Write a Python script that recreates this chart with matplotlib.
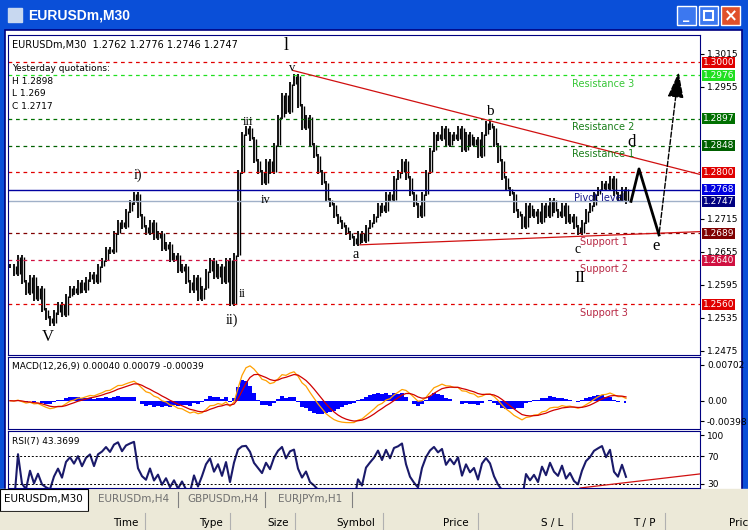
import numpy as np, pandas as pd
import matplotlib
matplotlib.use("Agg")
import matplotlib.pyplot as plt
from matplotlib.patches import Rectangle

closes = [1.2630,1.2615,1.2645,1.2600,1.2580,1.2610,1.2570,1.2590,1.2550,1.2535,
1.2525,1.2545,1.2560,1.2540,1.2575,1.2590,1.2580,1.2600,1.2585,1.2605,
1.2615,1.2600,1.2630,1.2640,1.2660,1.2655,1.2690,1.2710,1.2700,1.2730,
1.2745,1.2760,1.2720,1.2700,1.2690,1.2710,1.2680,1.2690,1.2660,1.2670,
1.2640,1.2650,1.2620,1.2630,1.2600,1.2585,1.2610,1.2570,1.2590,1.2620,
1.2640,1.2610,1.2630,1.2600,1.2640,1.2560,1.2650,1.2800,1.2870,1.2880,
1.2860,1.2820,1.2800,1.2780,1.2820,1.2800,1.2850,1.2900,1.2940,1.2910,
1.2960,1.2975,1.2920,1.2880,1.2900,1.2850,1.2830,1.2800,1.2780,1.2750,
1.2740,1.2720,1.2710,1.2700,1.2690,1.2680,1.2670,1.2690,1.2675,1.2700,
1.2710,1.2720,1.2740,1.2730,1.2760,1.2750,1.2790,1.2800,1.2820,1.2790,
1.2760,1.2740,1.2720,1.2760,1.2800,1.2840,1.2870,1.2860,1.2880,1.2850,
1.2870,1.2860,1.2880,1.2840,1.2870,1.2850,1.2860,1.2830,1.2870,1.2890,
1.2880,1.2850,1.2820,1.2790,1.2770,1.2760,1.2730,1.2720,1.2700,1.2740,
1.2720,1.2730,1.2710,1.2740,1.2720,1.2750,1.2730,1.2720,1.2740,1.2710,
1.2720,1.2700,1.2690,1.2710,1.2730,1.2740,1.2760,1.2770,1.2780,1.2770,
1.2790,1.2760,1.2750,1.2770,1.2747]

level_prices = [1.3000, 1.2976, 1.2897, 1.2848, 1.2800, 1.2768, 1.2747, 1.2689, 1.2640, 1.2560]
level_colors = ['#e00000', '#20e020', '#007000', '#006000', '#e00000', '#0000e0', '#000080', '#800000', '#d01040', '#e00000']
level_names = ["Resistance 3", "Resistance 2", "Resistance 1", "Pivot level", "Support 1", "Support 2", "Support 3"]
level_name_prices = [1.2976, 1.2897, 1.2848, 1.2768, 1.2689, 1.2640, 1.2560]
axis_ticks = [1.3015, 1.2955, 1.2715, 1.2655, 1.2595, 1.2535, 1.2475]
trend_upper = ([70.75, 172.5], [1.2985, 1.2796])
trend_lower = ([87.5, 172.5], [1.2668, 1.2692])
zig_x = [155.25, 157.25, 162.25]
zig_y = [1.2747, 1.2806, 1.2686]
arrow_end = (167.25, 1.2987)
waves = [("l", 69, 1.3030, 13), ("v", 70.5, 1.2990, 9), ("iii", 59.5, 1.2892, 9), ("iv", 64, 1.2750, 9),
         ("i)", 32, 1.2795, 10), ("ii", 58, 1.2578, 9), ("ii)", 55.5, 1.2530, 10), ("V", 9.5, 1.2500, 12),
         ("a", 86.5, 1.2650, 10), ("b", 120, 1.2910, 11), ("c", 142, 1.2660, 10), ("d", 155.5, 1.2855, 12),
         ("e", 161.5, 1.2665, 12), ("II", 142.5, 1.2608, 12)]

W, H = 748, 530
fig = plt.figure(figsize=(W/100, H/100), dpi=100)
fig.patch.set_facecolor('white')
def R(x0, y0, x1, y1):
    return [x0/W, 1-y1/H, (x1-x0)/W, (y1-y0)/H]

bg = fig.add_axes([0, 0, 1, 1]); bg.set_xlim(0, W); bg.set_ylim(H, 0); bg.axis('off')
bg.add_patch(Rectangle((0, 0), W, 30, color='#0a4fd8'))
bg.add_patch(Rectangle((0, 0), 5, 490, color='#0a4fd8'))
bg.add_patch(Rectangle((742, 0), 6, 490, color='#0a4fd8'))
for bx, c in [(677, '#3c78f0'), (699, '#3c78f0'), (721, '#e0502a')]:
    bg.add_patch(Rectangle((bx, 6), 19, 19, facecolor=c, edgecolor='white', lw=1))
bg.text(686, 16, "_", color='white', ha='center', va='center', fontsize=9, weight='bold')
bg.add_patch(Rectangle((704, 11), 9, 9, fill=False, edgecolor='white', lw=1.5))
bg.text(730.5, 16, "×", color='white', ha='center', va='center', fontsize=12, weight='bold')
bg.add_patch(Rectangle((8, 8), 14, 14, color='#c8d8f0'))
bg.text(28, 16, "EURUSDm,M30", color='white', fontsize=10, weight='bold', va='center', family='Liberation Sans')
bg.add_patch(Rectangle((5, 30), 737, 460, facecolor='white', edgecolor='#000080', lw=1.2))
bg.add_patch(Rectangle((0, 489), W, 22, color='#ece9d8'))
bg.add_patch(Rectangle((0, 489), 88, 22, facecolor='white', edgecolor='black', lw=0.8))
bg.text(4, 499, "EURUSDm,M30", fontsize=7.5, va='center')
for tx, s in [(98, "EURUSDm,H4"), (187, "GBPUSDm,H4"), (278, "EURJPYm,H1")]:
    bg.text(tx, 499, s, fontsize=7.5, va='center', color='#707070')
for lx in [178, 265, 352]:
    bg.plot([lx, lx], [492, 507], color='#808080', lw=0.8)
bg.add_patch(Rectangle((0, 512), W, 18, color='#ece9d8'))
for tx, s in [(138, "Time"), (223, "Type"), (289, "Size"), (375, "Symbol"), (469, "Price"), (563, "S / L"), (656, "T / P"), (748, "Pric")]:
    bg.text(tx, 523, s, fontsize=7.5, ha='right', va='center')
for lx in [145, 230, 295, 383, 478, 572, 665]:
    bg.plot([lx, lx], [513, 530], color='#b0b0b0', lw=0.8)

n = len(closes)
idx = np.arange(n)
opens = [closes[0]] + closes[:-1]
ax = fig.add_axes(R(8, 35, 700, 355))
ax.set_xlim(-0.5, 172.5); ax.set_ylim(1.24677, 1.30495)
lo = np.minimum(opens, closes) - 0.0004; hi = np.maximum(opens, closes) + 0.0004
ax.vlines(idx, lo, hi, color='black', lw=1.3)
ax.vlines(idx + 0.5, np.minimum(opens, closes), np.maximum(opens, closes), color='black', lw=1.0)
for p, c in zip(level_prices, level_colors):
    if p in (1.2768, 1.2747):
        ax.axhline(p, color='#0000a0' if p == 1.2768 else '#a0b0c8', lw=1.0)
    else:
        ax.axhline(p, color=c, lw=0.9, ls=(0, (3, 3)))
name_colors = ['#20c020', '#007000', '#007000', '#000080', '#b01030', '#b01030', '#b01030']
for nm, p, c in zip(level_names, level_name_prices, name_colors):
    xx = 142.5 if 'Support' in nm else 140.5 if 'Pivot' not in nm else 141
    ax.text(xx, p - 0.0006, nm, color=c, fontsize=7, va='top', alpha=0.9)
ax.plot(*trend_upper, color='#d01010', lw=0.9)
ax.plot(*trend_lower, color='#d01010', lw=0.9)
ax.plot(zig_x, zig_y, color='black', lw=2)
ax.annotate("", xy=arrow_end, xytext=(zig_x[-1], zig_y[-1]),
            arrowprops=dict(arrowstyle='-|>,head_length=1.6,head_width=0.5', color='black', lw=1.0, ls='--'))
for s, x, y, fs in waves:
    ax.text(x, y, s, fontsize=fs, family='Liberation Serif', ha='center', va='center')
ax.yaxis.tick_right()
ax.set_yticks(axis_ticks)
ax.set_yticklabels([f"{v:.4f}" for v in axis_ticks], fontsize=6.5)
ax.tick_params(axis='y', length=3, pad=2)
ax.set_xticks([])
for sp in ax.spines.values(): sp.set_color('#000080')
for p, c in zip(level_prices, level_colors):
    ax.text(1.004, p, f"{p:.4f}", transform=ax.get_yaxis_transform(), color='white', fontsize=6.5, va='center',
            bbox=dict(boxstyle='square,pad=0.12', fc=c, ec='none'), zorder=5)
ax.text(0.006, 0.985, "EURUSDm,M30  1.2762 1.2776 1.2746 1.2747", transform=ax.transAxes, fontsize=7, va='top')
for k, s in enumerate(["Yesterday quotations:", "H 1.2898", "L 1.269", "C 1.2717"]):
    ax.text(0.006, 0.91 - k*0.04, s, transform=ax.transAxes, fontsize=6.5, va='top')

cs = pd.Series(closes)
macd = cs.ewm(span=6).mean() - cs.ewm(span=13).mean()
sig = macd.ewm(span=5).mean()
hist = macd - sig
ax2 = fig.add_axes(R(8, 357, 700, 429))
ax2.set_xlim(-0.5, 172.5); ax2.set_ylim(-0.0055, 0.0085)
ax2.fill_between(idx, 0, hist * 1.3, color='#0000ff', step='mid', lw=0)
ax2.plot(idx, macd, color='#ffa000', lw=0.9)
ax2.plot(idx, sig, color='#d00000', lw=0.9)
ax2.yaxis.tick_right()
ax2.set_yticks([0.00702, 0.0, -0.00398]); ax2.set_yticklabels(["0.00702", "0.00", "-0.00398"], fontsize=6.5)
ax2.tick_params(axis='y', length=3, pad=2); ax2.set_xticks([])
for sp in ax2.spines.values(): sp.set_color('#000080')
ax2.text(0.006, 0.93, "MACD(12,26,9) 0.00040 0.00079 -0.00039", transform=ax2.transAxes, fontsize=6.5, va='top')

d = cs.diff()
up = d.clip(lower=0).ewm(alpha=1/4).mean(); dn = (-d.clip(upper=0)).ewm(alpha=1/4).mean()
rsi = 100 - 100 / (1 + up / (dn + 1e-12))
ax3 = fig.add_axes(R(8, 431, 700, 488))
ax3.set_xlim(-0.5, 172.5); ax3.set_ylim(23.5, 106.5)
ax3.plot(idx, rsi, color='#1a1a6a', lw=1.5)
for v in (70, 30): ax3.axhline(v, color='black', lw=0.7, ls=(0, (2, 2)))
ax3.plot([142.5, 172.5], [23.5, 44], color='#d01010', lw=0.9)
ax3.yaxis.tick_right()
ax3.set_yticks([100, 70, 30]); ax3.set_yticklabels(["100", "70", "30"], fontsize=6.5)
ax3.tick_params(axis='y', length=3, pad=2); ax3.set_xticks([])
for sp in ax3.spines.values(): sp.set_color('#000080')
ax3.text(0.006, 0.9, "RSI(7) 43.3699", transform=ax3.transAxes, fontsize=6.5, va='top')

fig.savefig("out.png", dpi=100)
